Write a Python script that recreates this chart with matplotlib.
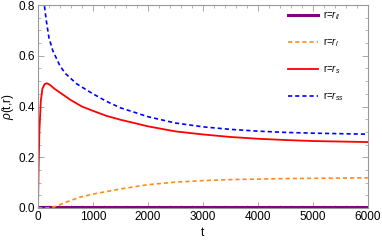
import numpy as np
import matplotlib
matplotlib.use("Agg")
import matplotlib.pyplot as plt
from matplotlib.ticker import MultipleLocator

plt.rcParams['font.family'] = ['Liberation Sans', 'DejaVu Sans']
plt.rcParams['mathtext.fontset'] = 'custom'
plt.rcParams['mathtext.rm'] = 'Liberation Sans'
plt.rcParams['mathtext.it'] = 'Liberation Sans:italic'

# values
t_ll = [0, 1000, 2000, 3000, 4000, 5000, 6000]
rho_ll = [0.002, 0.002, 0.002, 0.002, 0.002, 0.002, 0.002]

t_l = [0, 200, 300, 500, 750, 1000, 1500, 2000, 2500, 3000, 3500, 4000, 4500, 5000, 5500, 6000]
rho_l = [0, 0, 0.005, 0.022, 0.042, 0.055, 0.075, 0.092, 0.102, 0.108, 0.112, 0.114, 0.116, 0.117, 0.118, 0.119]

t_s = [0, 10, 25, 50, 80, 120, 160, 220, 300, 400, 600, 800, 1000, 1250, 1500, 2000,
       2500, 3000, 3500, 4000, 4500, 5000, 5500, 6000]
rho_s = [0, 0.15, 0.30, 0.42, 0.47, 0.488, 0.492, 0.485, 0.47, 0.455, 0.425, 0.40, 0.383,
         0.363, 0.348, 0.322, 0.302, 0.29, 0.28, 0.273, 0.268, 0.264, 0.262, 0.26]

t_ss = [100, 115, 150, 200, 270, 400, 500, 700, 1000, 1250, 1500, 2000, 2500, 3000,
        3500, 4000, 4500, 5000, 5500, 6000]
rho_ss = [0.85, 0.80, 0.74, 0.67, 0.62, 0.56, 0.53, 0.49, 0.45, 0.42, 0.395, 0.36, 0.335,
          0.32, 0.31, 0.303, 0.298, 0.295, 0.293, 0.291]

labels = ['r=$r_{ll}$', 'r=$r_l$', 'r=$r_s$', 'r=$r_{ss}$']

fig = plt.figure(figsize=(3.82, 2.42), dpi=100)
ax = fig.add_axes([0.0995, 0.1405, 0.8635, 0.8385])

ax.plot(t_ll, rho_ll, color='#800080', lw=2.2, label=labels[0])
ax.plot(t_l, rho_l, color='#ff8c1a', lw=1.2, ls=(0, (2.5, 1.8)), label=labels[1])
ax.plot(t_s, rho_s, color='#ff0000', lw=1.3, label=labels[2])
ax.plot(t_ss, rho_ss, color='#0000ff', lw=1.2, ls=(0, (2.5, 1.8)), label=labels[3])

ax.set_xlim(0, 6000)
ax.set_ylim(0, 0.8)
ax.xaxis.set_major_locator(MultipleLocator(1000))
ax.xaxis.set_minor_locator(MultipleLocator(200))
ax.yaxis.set_major_locator(MultipleLocator(0.2))
ax.yaxis.set_minor_locator(MultipleLocator(0.05))
ax.yaxis.set_major_formatter(plt.FuncFormatter(lambda v, p: '%.1f' % v))
ax.tick_params(which='both', direction='in', top=True, right=True, color='#999999',
               labelsize=8.5, pad=2)
ax.tick_params(which='major', length=4, width=0.6)
ax.tick_params(which='minor', length=2, width=0.5)
for s in ax.spines.values():
    s.set_color('#999999')
    s.set_linewidth(0.8)

ax.set_xlabel('t', fontsize=8.5, labelpad=3)
ax.set_ylabel(r'$\rho$(t,r)', fontsize=8.5, labelpad=2)

ax.legend(loc='upper left', bbox_to_anchor=(0.745, 0.997), frameon=False, fontsize=7,
          handlelength=3.1, labelspacing=1.45, handletextpad=0.5, borderaxespad=0)

fig.savefig('out.png', dpi=100)
